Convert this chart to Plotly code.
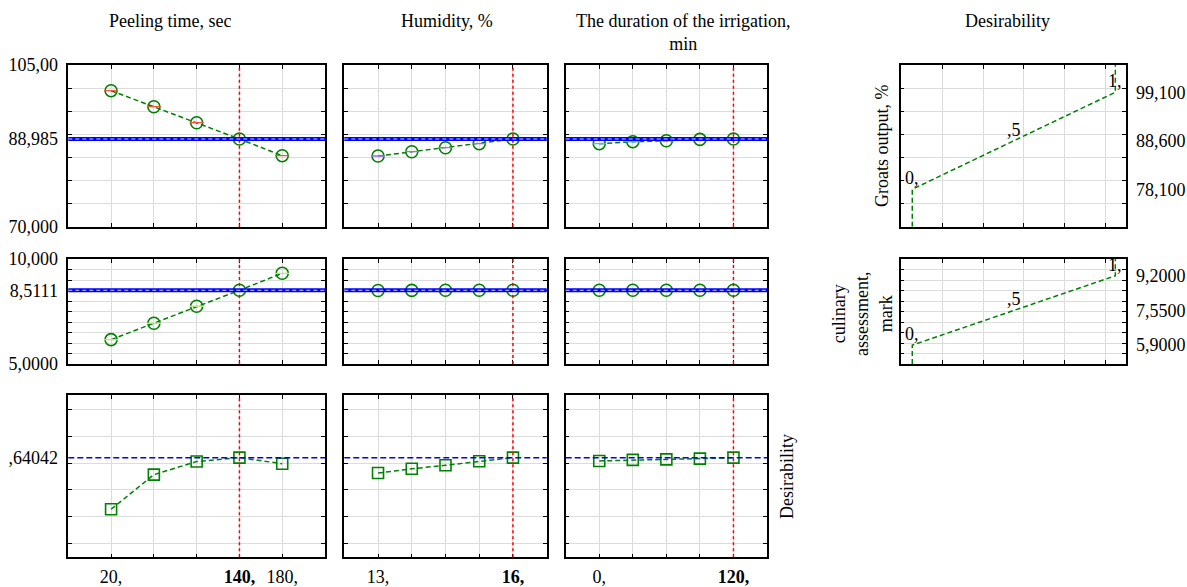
import plotly.graph_objects as go

# ---------------- data ----------------
factor_names = ["Peeling time, sec", "Humidity, %", "The duration of the irrigation,<br>min"]
peel_levels = [20, 60, 100, 140, 180]
humid_levels = [13, 13.75, 14.5, 15.25, 16]
irrig_levels = [0, 30, 60, 90, 120]
factor_levels = [peel_levels, humid_levels, irrig_levels]
factor_current = [140, 16, 120]
factor_ranges = [[-20, 220], [12.25, 16.75], [-30, 150]]

groats_peel = [99.44, 95.97, 92.51, 88.985, 85.37]
groats_humid = [85.30, 86.23, 87.10, 87.97, 88.985]
groats_irrig = [87.97, 88.40, 88.60, 88.90, 88.985]

culinary_peel = [6.16, 6.94, 7.75, 8.5111, 9.32]
culinary_humid = [8.50, 8.505, 8.51, 8.51, 8.5111]
culinary_irrig = [8.51, 8.51, 8.51, 8.51, 8.5111]

desir_peel = [0.448, 0.577, 0.626, 0.64042, 0.618]
desir_humid = [0.583, 0.599, 0.612, 0.627, 0.64042]
desir_irrig = [0.628, 0.632, 0.634, 0.637, 0.64042]

responses = [[groats_peel, groats_humid, groats_irrig],
             [culinary_peel, culinary_humid, culinary_irrig],
             [desir_peel, desir_humid, desir_irrig]]
predicted = [88.985, 8.5111, 0.64042]
resp_ranges = [[70, 105], [5, 10], [0.269, 0.874]]
resp_grid = [[75, 80, 85, 90, 95, 100],
             [5.5, 6, 6.5, 7, 7.5, 8, 8.5, 9, 9.5],
             [0.32, 0.42, 0.52, 0.62, 0.72, 0.82]]
resp_tickvals = [[70, 88.985, 105], [5, 8.5111, 10], [0.64042]]
resp_ticktext = [["70,000", "88,985", "105,00"], ["5,0000", "8,5111", "10,000"], [",64042"]]

# desirability functions (response value at desirability 0, .5, 1)
desir_fn_names = ["Groats output, %", "culinary<br>assessment,<br>mark"]
desir_levels = [0, 0.5, 1]
desir_labels = ["0,", ",5", "1,"]
groats_fn = [78.1, 88.6, 99.1]
culinary_fn = [5.9, 7.55, 9.2]
desir_fns = [groats_fn, culinary_fn]
desir_fn_ticktext = [["78,100", "88,600", "99,100"], ["5,9000", "7,5500", "9,2000"]]
desir_x_range = [-0.057, 1.051]
desir_x_grid = [0.15, 0.35, 0.55, 0.75, 0.95]

# ---------------- layout geometry ----------------
W, H = 1187, 587
cols = [(68.3, 325.0), (344.3, 546.7), (565.7, 767.0)]
rows = [(65.0, 226.7), (259.0, 364.0), (395.0, 557.3)]
right_col = (900.7, 1125.7)

FONT = "Liberation Serif"
FS = 18
GREEN = "#008000"
GRID = "#dcdcdc"

fig = go.Figure()
layout = {}
shapes = []
annotations = []


def xd(a, b):
    return [a / W, b / W]


def yd(a, b):
    return [1 - b / H, 1 - a / H]


axis_common = dict(showline=True, linecolor="black", linewidth=1.5, mirror="allticks",
                   zeroline=False, showgrid=False, ticks="", automargin=False,
                   tickfont=dict(family=FONT, size=FS, color="black"))

idx = 0
for r in range(3):
    for c in range(3):
        idx += 1
        xa = "x" if idx == 1 else f"x{idx}"
        ya = "y" if idx == 1 else f"y{idx}"
        xk = "xaxis" if idx == 1 else f"xaxis{idx}"
        yk = "yaxis" if idx == 1 else f"yaxis{idx}"
        lev = factor_levels[c]
        cur = factor_current[c]
        if r == 2:
            ttext = []
            tvals = []
            for v in lev:
                if v == cur:
                    tvals.append(v); ttext.append(f"<b>{v:g},</b>")
                elif v == lev[0] or v == lev[-1]:
                    tvals.append(v); ttext.append(f"{v:g},")
            xt = dict(tickmode="array", tickvals=tvals, ticktext=ttext, showticklabels=True,
                      ticklabelstandoff=2)
        else:
            xt = dict(showticklabels=False, tickmode="array", tickvals=[])
        layout[xk] = dict(axis_common, domain=xd(*cols[c]), range=factor_ranges[c],
                          anchor=ya, **xt,
                          minor=dict(tickmode="array", tickvals=lev, showgrid=True,
                                     gridcolor=GRID, gridwidth=1, ticks="inside",
                                     ticklen=4, tickcolor="black", tickwidth=1.2))
        if c == 0:
            yt = dict(tickmode="array", tickvals=resp_tickvals[r], ticktext=resp_ticktext[r],
                      showticklabels=True, ticklabelstandoff=5)
        else:
            yt = dict(showticklabels=False, tickmode="array", tickvals=[])
        layout[yk] = dict(axis_common, domain=yd(*rows[r]), range=resp_ranges[r],
                          anchor=xa, **yt,
                          minor=dict(tickmode="array", tickvals=resp_grid[r], showgrid=True,
                                     gridcolor=GRID, gridwidth=1, ticks="inside",
                                     ticklen=4, tickcolor="black", tickwidth=1.2))
        yv = responses[r][c]
        # red current-value line
        shapes.append(dict(type="line", xref=xa, yref=f"{ya} domain", x0=cur, x1=cur, y0=0, y1=1,
                           line=dict(color="#ff0000", width=1.5, dash="dot")))
        if r < 2:
            shapes.append(dict(type="line", xref=f"{xa} domain", yref=ya, x0=0, x1=1,
                               y0=predicted[r], y1=predicted[r],
                               line=dict(color="#0000ff", width=4)))
            shapes.append(dict(type="line", xref=f"{xa} domain", yref=ya, x0=0, x1=1,
                               y0=predicted[r], y1=predicted[r],
                               line=dict(color="#c8d0ff", width=1, dash="4px,3px")))
            fig.add_trace(go.Scatter(x=lev, y=yv, xaxis=xa, yaxis=ya, mode="lines+markers",
                                     line=dict(color=GREEN, width=1.5, dash="5px,3px"),
                                     marker=dict(symbol="circle-open", size=12,
                                                 line=dict(color=GREEN, width=1.6)),
                                     showlegend=False, hoverinfo="x+y"))
            fig.add_trace(go.Scatter(x=lev, y=yv, xaxis=xa, yaxis=ya, mode="markers",
                                     marker=dict(symbol="line-ew-open", size=10,
                                                 line=dict(color=GREEN, width=1.3)),
                                     showlegend=False, hoverinfo="skip"))
        else:
            shapes.append(dict(type="line", xref=f"{xa} domain", yref=ya, x0=0, x1=1,
                               y0=predicted[r], y1=predicted[r],
                               line=dict(color="#0000ff", width=1.5, dash="6px,3px")))
            fig.add_trace(go.Scatter(x=lev, y=yv, xaxis=xa, yaxis=ya, mode="lines+markers",
                                     line=dict(color=GREEN, width=1.5, dash="5px,3px"),
                                     marker=dict(symbol="square-open", size=11,
                                                 line=dict(color=GREEN, width=1.6)),
                                     showlegend=False, hoverinfo="x+y"))

# desirability function panels on the right
for r in range(2):
    idx += 1
    xa, ya = f"x{idx}", f"y{idx}"
    xk, yk = f"xaxis{idx}", f"yaxis{idx}"
    layout[xk] = dict(axis_common, domain=xd(*right_col), range=desir_x_range, anchor=ya,
                      showticklabels=False, tickmode="array", tickvals=[],
                      minor=dict(tickmode="array", tickvals=desir_x_grid, showgrid=True,
                                 gridcolor=GRID, gridwidth=1, ticks="inside",
                                 ticklen=4, tickcolor="black", tickwidth=1.2))
    layout[yk] = dict(axis_common, domain=yd(*rows[r]), range=resp_ranges[r], anchor=xa,
                      side="right", tickmode="array", tickvals=desir_fns[r],
                      ticktext=desir_fn_ticktext[r], ticklabelstandoff=5,
                      minor=dict(tickmode="array", tickvals=resp_grid[r], showgrid=True,
                                 gridcolor=GRID, gridwidth=1, ticks="inside",
                                 ticklen=4, tickcolor="black", tickwidth=1.2))
    fn = desir_fns[r]
    xs = [desir_levels[0]] + desir_levels + [desir_levels[-1]]
    ys = [resp_ranges[r][0]] + fn + [resp_ranges[r][1]]
    fig.add_trace(go.Scatter(x=xs, y=ys, xaxis=xa, yaxis=ya, mode="lines",
                             line=dict(color=GREEN, width=1.5, dash="5px,3px"),
                             showlegend=False, hoverinfo="x+y"))
    for dv, lab, rv in zip(desir_levels, desir_labels, fn):
        annotations.append(dict(x=dv, y=rv, xref=xa, yref=ya, text=lab, showarrow=False,
                                xanchor="center", yshift=11,
                                font=dict(family=FONT, size=FS, color="black")))

# titles
title_pos = [(170, 21), (447, 21), (683, 32)]
for name, (tx, ty) in zip(factor_names, title_pos):
    annotations.append(dict(x=tx / W, y=1 - ty / H, xref="paper", yref="paper", text=name,
                            showarrow=False, xanchor="center", yanchor="middle",
                            font=dict(family=FONT, size=FS, color="black")))
side_labels = [("Desirability", 1008, 21, 0),
               ("Desirability", 787, 477, -90),
               (desir_fn_names[0], 882, 146, -90),
               (desir_fn_names[1], 862, 314, -90)]
for txt, tx, ty, ang in side_labels:
    annotations.append(dict(x=tx / W, y=1 - ty / H, xref="paper", yref="paper", text=txt,
                            showarrow=False, textangle=ang, xanchor="center", yanchor="middle",
                            font=dict(family=FONT, size=FS, color="black")))

fig.update_layout(**layout)
fig.update_layout(width=W, height=H, margin=dict(l=0, r=0, t=0, b=0, autoexpand=False),
                  paper_bgcolor="white", plot_bgcolor="white", shapes=shapes,
                  annotations=annotations, showlegend=False,
                  font=dict(family=FONT, size=FS, color="black"))
fig.write_html("out.html", config={"displayModeBar": False},
               post_script="document.body.style.margin='0';document.body.style.overflow='hidden';")
